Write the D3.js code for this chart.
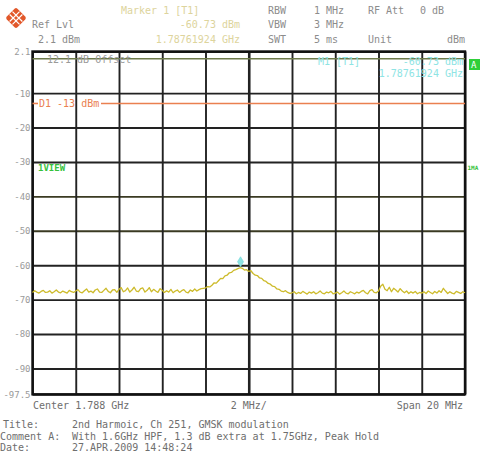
<!DOCTYPE html>
<html>
<head>
<meta charset="utf-8">
<script src="https://cdn.jsdelivr.net/npm/d3@7"></script>
<style>
  html, body { margin: 0; padding: 0; background: #fff; }
  svg { display: block; }
  text { font-family: "DejaVu Sans Mono", "Liberation Mono", monospace; }
</style>
</head>
<body>
<svg id="chart" width="480" height="454"></svg>
<script>
// Sweep settings
const startFreq = 1.778;   // GHz
const stopFreq = 1.798;    // GHz
const sweepPoints = 201;

// Level axis labels (dBm)
const levelTicks = [2.1, -10, -20, -30, -40, -50, -60, -70, -80, -90, -97.5];
// Frequency grid (GHz), 2 MHz/div
const freqTicks = [1.778, 1.780, 1.782, 1.784, 1.786, 1.788, 1.790, 1.792, 1.794, 1.796, 1.798];

// Display line D1
const displayLine = -13;
const offsetLine = 0;

// Marker 1
const markerFreq = 1.78761924;
const markerLevel = -60.73;

// Peak-hold trace, dBm per sweep point
const traceLevels = [
  -67.9,-67.4,-67.8,-68.1,-67.6,-67.3,-67.9,-67.8,-67.4,-68.1,-67.7,-67.2,-67.8,-68.0,-67.5,-67.8,-68.1,-67.3,-67.7,-67.9,
  -67.5,-67.1,-67.8,-68.0,-67.4,-66.9,-67.8,-67.5,-68.0,-67.2,-66.9,-67.8,-67.9,-67.3,-66.7,-67.6,-68.0,-67.2,-67.1,-67.9,
  -67.0,-66.5,-67.7,-67.4,-66.6,-67.8,-67.2,-66.4,-67.5,-67.7,-66.8,-66.6,-67.8,-67.3,-66.5,-67.7,-67.0,-67.5,-67.9,-66.8,
  -67.3,-67.9,-67.4,-67.8,-67.0,-68.0,-67.5,-67.2,-67.9,-67.4,-67.1,-67.8,-68.0,-67.2,-67.6,-66.9,-67.5,-67.1,-66.8,-66.7,
  -66.6,-66.2,-66.3,-65.8,-65.1,-65.2,-64.5,-63.8,-63.9,-63.1,-62.9,-62.2,-62.1,-61.5,-61.3,-61.0,-60.73,-60.9,-61.4,-61.3,
  -61.8,-61.6,-62.4,-62.9,-63.0,-63.7,-63.8,-64.5,-64.7,-65.3,-65.5,-66.1,-66.2,-66.9,-67.0,-67.5,-67.7,-67.4,-67.9,-68.2,
  -68.0,-67.7,-68.3,-67.9,-68.2,-67.6,-68.0,-68.4,-67.8,-68.1,-67.7,-68.3,-68.0,-67.5,-68.1,-68.3,-67.8,-68.0,-67.6,-68.3,
  -68.1,-67.8,-68.4,-68.0,-67.5,-68.1,-68.3,-67.7,-68.0,-68.3,-67.8,-68.1,-67.6,-67.3,-68.0,-68.3,-67.4,-67.1,-67.9,-68.0,
  -67.5,-66.1,-65.5,-67.0,-67.4,-66.4,-67.7,-66.7,-67.2,-67.8,-66.8,-67.5,-68.0,-67.5,-68.2,-67.7,-68.1,-67.6,-68.3,-67.9,
  -68.1,-67.7,-68.2,-67.5,-67.9,-68.3,-67.6,-68.1,-67.4,-67.9,-66.7,-67.5,-68.2,-67.7,-68.1,-68.3,-67.6,-67.9,-68.2,-67.7,-68.0
];

const svg = d3.select("#chart");

const plot = { left: 32.5, right: 465, top: 51.5, bottom: 394.3 };

const x = d3.scaleLinear().domain([startFreq, stopFreq]).range([plot.left, plot.right]);
const y = d3.scaleLinear().domain([2.1, -97.5]).range([plot.top, plot.bottom]);

const freqs = d3.range(sweepPoints).map(i => startFreq + i * (stopFreq - startFreq) / (sweepPoints - 1));
const trace = freqs.map((f, i) => ({ f, v: traceLevels[i] }));

// ---- Header ----
const logo = svg.append("g").attr("transform", "translate(16,18) rotate(45)");
logo.append("rect").attr("x", -7.5).attr("y", -7.5).attr("width", 15).attr("height", 15)
  .attr("rx", 2).attr("fill", "#e2582a");
logo.append("path").attr("d", "M-7,-2H7M-7,2H7M-2,-7V7M2,-7V7")
  .attr("stroke", "#fff").attr("stroke-width", 1.2).attr("fill", "none");

const hdr = svg.append("g").attr("font-size", 10);
const grey = "#8c8c8c";
const pale = "#ddd49c";
hdr.append("text").attr("x", 32).attr("y", 28).attr("fill", grey).text("Ref Lvl");
hdr.append("text").attr("x", 38).attr("y", 43).attr("fill", grey).text("2.1 dBm");
hdr.append("text").attr("x", 121).attr("y", 14).attr("fill", pale).text("Marker 1 [T1]");
hdr.append("text").attr("x", 240).attr("y", 28).attr("fill", pale).attr("text-anchor", "end").text("-60.73 dBm");
hdr.append("text").attr("x", 240).attr("y", 43).attr("fill", pale).attr("text-anchor", "end").text("1.78761924 GHz");
[["RBW", 268, 14], ["VBW", 268, 28], ["SWT", 268, 43],
 ["1 MHz", 314, 14], ["3 MHz", 314, 28], ["5 ms", 314, 43],
 ["RF Att", 368, 14], ["Unit", 368, 43]].forEach(([t, tx, ty]) => {
  hdr.append("text").attr("x", tx).attr("y", ty).attr("fill", grey).text(t);
});
hdr.append("text").attr("x", 444).attr("y", 14).attr("fill", grey).attr("text-anchor", "end").text("0 dB");
hdr.append("text").attr("x", 465).attr("y", 43).attr("fill", grey).attr("text-anchor", "end").text("dBm");

// ---- Grid via axes ----
const gridW = plot.right - plot.left;
const gridH = plot.bottom - plot.top;

const yAxis = d3.axisLeft(y)
  .tickValues(levelTicks)
  .tickSize(-gridW)
  .tickPadding(2)
  .tickFormat(d => String(d));
const gy = svg.append("g").attr("transform", `translate(${plot.left},0)`).call(yAxis);
gy.select(".domain").remove();
gy.selectAll(".tick line")
  .attr("stroke", d => (d === -40 || d === -50) ? "#3a3a22" : "#222")
  .attr("stroke-width", 1.9);
gy.selectAll(".tick text")
  .attr("fill", "#9a9a9a")
  .attr("font-size", 9)
  .attr("font-family", "DejaVu Sans Mono, monospace");

const xAxis = d3.axisBottom(x)
  .tickValues(freqTicks)
  .tickSize(-gridH)
  .tickFormat("");
const gx = svg.append("g").attr("transform", `translate(0,${plot.bottom})`).call(xAxis);
gx.select(".domain").remove();
gx.selectAll(".tick line")
  .attr("stroke", "#222")
  .attr("stroke-width", d => Math.abs(d - 1.788) < 1e-9 ? 2.6 : 1.9);

// frame
svg.append("rect")
  .attr("x", plot.left).attr("y", plot.top)
  .attr("width", gridW).attr("height", gridH)
  .attr("fill", "none").attr("stroke", "#111").attr("stroke-width", 2.4);

// offset reference line
svg.append("line")
  .attr("x1", plot.left).attr("x2", plot.right)
  .attr("y1", y(offsetLine)).attr("y2", y(offsetLine))
  .attr("stroke", "#6e7a4a").attr("stroke-width", 1.6);
svg.append("text").attr("x", 47).attr("y", y(offsetLine) + 4)
  .attr("font-size", 10).attr("fill", "#9a9a9a").text("12.1 dB Offset");

// display line D1
const orange = "#ea8050";
svg.append("line")
  .attr("x1", plot.left).attr("x2", 38)
  .attr("y1", y(displayLine)).attr("y2", y(displayLine))
  .attr("stroke", orange).attr("stroke-width", 1.6);
svg.append("line")
  .attr("x1", 101).attr("x2", plot.right)
  .attr("y1", y(displayLine)).attr("y2", y(displayLine))
  .attr("stroke", orange).attr("stroke-width", 1.6);
svg.append("text").attr("x", 39).attr("y", y(displayLine) + 3.5)
  .attr("font-size", 10).attr("fill", orange).text("D1 -13 dBm");

// marker readout inside the grid
const cyan = "#8ee4e4";
svg.append("text").attr("x", 318).attr("y", 65).attr("font-size", 10).attr("fill", cyan).text("M1 [T1]");
svg.append("text").attr("x", 463).attr("y", 65).attr("font-size", 10).attr("fill", cyan)
  .attr("text-anchor", "end").text("-60.73 dBm");
svg.append("text").attr("x", 463).attr("y", 77).attr("font-size", 10).attr("fill", cyan)
  .attr("text-anchor", "end").text("1.78761924 GHz");

// side annotations
svg.append("rect").attr("x", 469).attr("y", 59).attr("width", 11).attr("height", 11).attr("fill", "#2fcf3a");
svg.append("text").attr("x", 471).attr("y", 68).attr("font-size", 9).attr("fill", "#fff").text("A");
svg.append("text").attr("x", 38).attr("y", 171).attr("font-size", 9).attr("font-weight", "bold")
  .attr("fill", "#36c23c").text("1VIEW");
svg.append("text").attr("x", 467.5).attr("y", 170).attr("font-size", 6).attr("font-weight", "bold")
  .attr("fill", "#36c23c")
  .text("1MA");

// ---- Trace ----
const line = d3.line().x(d => x(d.f)).y(d => y(d.v));
svg.append("path")
  .datum(trace)
  .attr("d", line)
  .attr("fill", "none")
  .attr("stroke", "#cdbb2c")
  .attr("stroke-width", 1.3)
  .attr("stroke-linejoin", "round");

// marker symbol
const mx = x(markerFreq), my = y(markerLevel);
svg.append("path")
  .attr("d", `M${mx},${my - 1} L${mx - 3},${my - 6} L${mx},${my - 11} L${mx + 3},${my - 6} Z`)
  .attr("fill", cyan).attr("stroke", "#6fd6d6").attr("stroke-width", 0.6);

// ---- Footer ----
const ft = svg.append("g").attr("font-size", 10).attr("fill", "#6e6e6e");
ft.append("text").attr("x", 33).attr("y", 409).text("Center 1.788 GHz");
ft.append("text").attr("x", x(1.788)).attr("y", 409).attr("text-anchor", "middle").text("2 MHz/");
ft.append("text").attr("x", 463).attr("y", 409).attr("text-anchor", "end").text("Span 20 MHz");
ft.append("text").attr("x", 3).attr("y", 428).text("Title:");
ft.append("text").attr("x", 72).attr("y", 428).text("2nd Harmoic, Ch 251, GMSK modulation");
ft.append("text").attr("x", 0).attr("y", 440).text("Comment A:");
ft.append("text").attr("x", 72).attr("y", 440).text("With 1.6GHz HPF, 1.3 dB extra at 1.75GHz, Peak Hold");
ft.append("text").attr("x", 0).attr("y", 451).text("Date:");
ft.append("text").attr("x", 72).attr("y", 451).text("27.APR.2009  14:48:24");
</script>
</body>
</html>
